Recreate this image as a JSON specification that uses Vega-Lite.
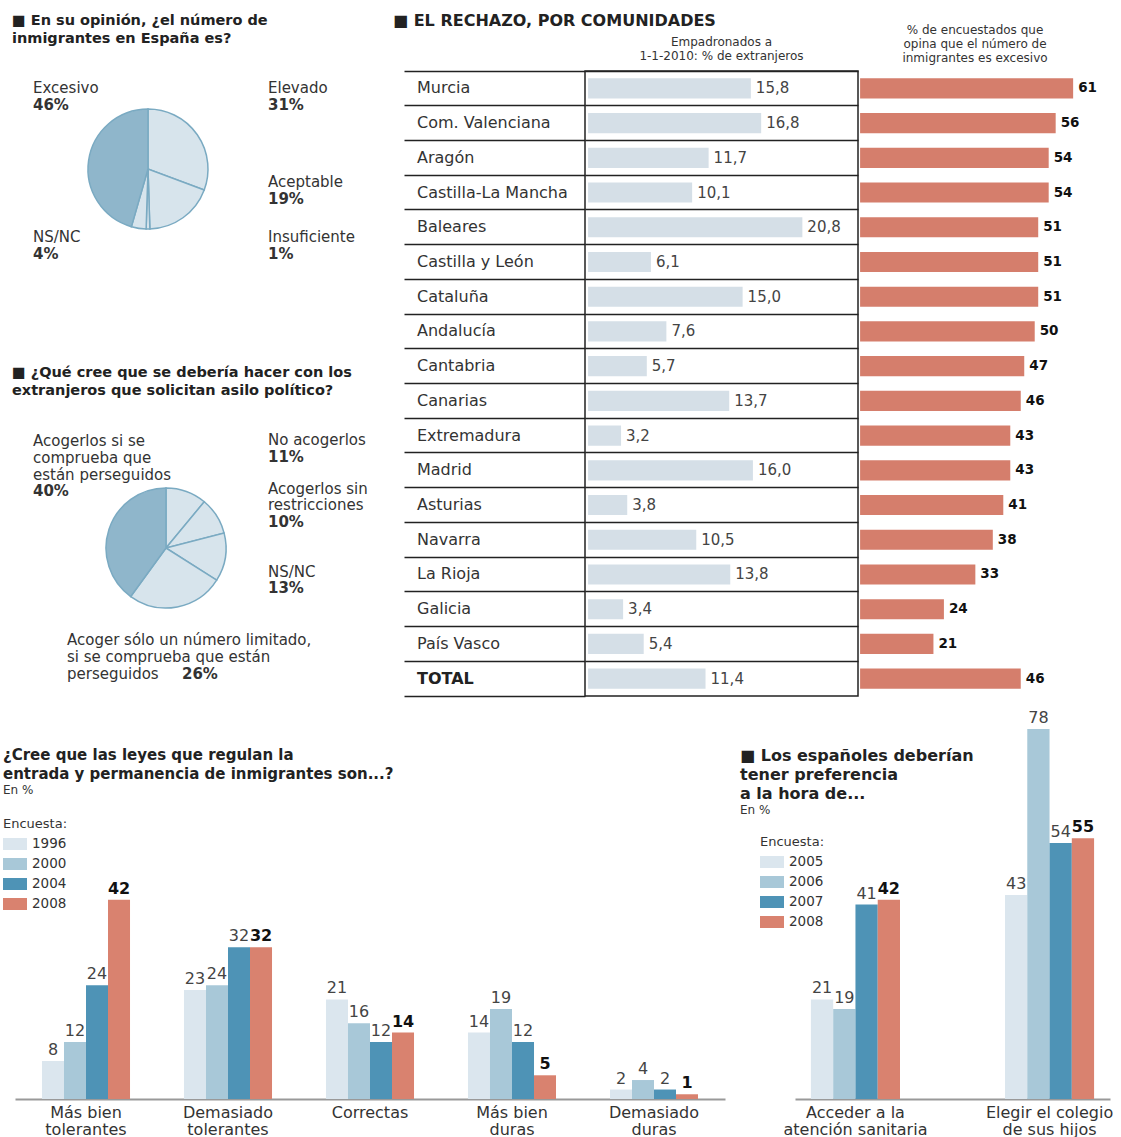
{
  "$schema": "https://vega.github.io/schema/vega-lite/v6.json",
  "padding": {"left": 3, "top": 12, "right": 0, "bottom": 0},
  "background": "white",
  "config": {
    "font": "DejaVu Sans",
    "view": {"stroke": null},
    "locale": {"number": {"decimal": ",", "thousands": ".", "grouping": [3], "currency": ["", " €"]}},
    "title": {"color": "#222"},
    "text": {"color": "#333"}
  },
  "datasets": {
    "pie1": [
      {"answer": "Elevado", "share": 0.31},
      {"answer": "Aceptable", "share": 0.19},
      {"answer": "Insuficiente", "share": 0.01},
      {"answer": "NS/NC", "share": 0.04},
      {"answer": "Excesivo", "share": 0.46}
    ],
    "pie2": [
      {"answer": "No acogerlos", "share": 0.11},
      {"answer": "Acogerlos sin restricciones", "share": 0.10},
      {"answer": "NS/NC", "share": 0.13},
      {"answer": "Acoger sólo un número limitado, si se comprueba que están perseguidos", "share": 0.26},
      {"answer": "Acogerlos si se comprueba que están perseguidos", "share": 0.40}
    ],
    "ccaa": [
      {"region": "Murcia", "emp": 15.8, "exc": 61},
      {"region": "Com. Valenciana", "emp": 16.8, "exc": 56},
      {"region": "Aragón", "emp": 11.7, "exc": 54},
      {"region": "Castilla-La Mancha", "emp": 10.1, "exc": 54},
      {"region": "Baleares", "emp": 20.8, "exc": 51},
      {"region": "Castilla y León", "emp": 6.1, "exc": 51},
      {"region": "Cataluña", "emp": 15.0, "exc": 51},
      {"region": "Andalucía", "emp": 7.6, "exc": 50},
      {"region": "Cantabria", "emp": 5.7, "exc": 47},
      {"region": "Canarias", "emp": 13.7, "exc": 46},
      {"region": "Extremadura", "emp": 3.2, "exc": 43},
      {"region": "Madrid", "emp": 16.0, "exc": 43},
      {"region": "Asturias", "emp": 3.8, "exc": 41},
      {"region": "Navarra", "emp": 10.5, "exc": 38},
      {"region": "La Rioja", "emp": 13.8, "exc": 33},
      {"region": "Galicia", "emp": 3.4, "exc": 24},
      {"region": "País Vasco", "emp": 5.4, "exc": 21},
      {"region": "TOTAL", "emp": 11.4, "exc": 46}
    ],
    "leyes": [
      {"cat": "Más bien tolerantes", "year": 1996, "value": 8},
      {"cat": "Más bien tolerantes", "year": 2000, "value": 12},
      {"cat": "Más bien tolerantes", "year": 2004, "value": 24},
      {"cat": "Más bien tolerantes", "year": 2008, "value": 42},
      {"cat": "Demasiado tolerantes", "year": 1996, "value": 23},
      {"cat": "Demasiado tolerantes", "year": 2000, "value": 24},
      {"cat": "Demasiado tolerantes", "year": 2004, "value": 32},
      {"cat": "Demasiado tolerantes", "year": 2008, "value": 32},
      {"cat": "Correctas", "year": 1996, "value": 21},
      {"cat": "Correctas", "year": 2000, "value": 16},
      {"cat": "Correctas", "year": 2004, "value": 12},
      {"cat": "Correctas", "year": 2008, "value": 14},
      {"cat": "Más bien duras", "year": 1996, "value": 14},
      {"cat": "Más bien duras", "year": 2000, "value": 19},
      {"cat": "Más bien duras", "year": 2004, "value": 12},
      {"cat": "Más bien duras", "year": 2008, "value": 5},
      {"cat": "Demasiado duras", "year": 1996, "value": 2},
      {"cat": "Demasiado duras", "year": 2000, "value": 4},
      {"cat": "Demasiado duras", "year": 2004, "value": 2},
      {"cat": "Demasiado duras", "year": 2008, "value": 1}
    ],
    "pref": [
      {"cat": "Acceder a la atención sanitaria", "year": 2005, "value": 21},
      {"cat": "Acceder a la atención sanitaria", "year": 2006, "value": 19},
      {"cat": "Acceder a la atención sanitaria", "year": 2007, "value": 41},
      {"cat": "Acceder a la atención sanitaria", "year": 2008, "value": 42},
      {"cat": "Elegir el colegio de sus hijos", "year": 2005, "value": 43},
      {"cat": "Elegir el colegio de sus hijos", "year": 2006, "value": 78},
      {"cat": "Elegir el colegio de sus hijos", "year": 2007, "value": 54},
      {"cat": "Elegir el colegio de sus hijos", "year": 2008, "value": 55}
    ]
  },
  "vconcat": [
    {
      "hconcat": [
        {
          "vconcat": [
            {
              "width": 266, "height": 196,
              "data": {"name": "pie1"},
              "title": {"text": ["■ En su opinión, ¿el número de", "inmigrantes en España es?"], "anchor": "start", "frame": "group", "dx": -3, "offset": 25, "fontSize": 14.5, "lineHeight": 18, "fontWeight": "bold"},
              "transform": [{"window": [{"op": "row_number", "as": "ord"}]}],
              "layer": [
                {
                  "mark": {"type": "arc", "outerRadius": 60, "stroke": "#7aaac2", "strokeWidth": 1.5},
                  "encoding": {
                    "theta": {"field": "share", "type": "quantitative", "stack": true},
                    "order": {"field": "ord", "type": "quantitative"},
                    "color": {"condition": {"test": "datum.answer == 'Excesivo'", "value": "#8fb6cb"}, "value": "#d7e4ec"}
                  }
                },
                {"transform": [{"filter": "datum.answer == 'Excesivo'"}], "mark": {"type": "text", "align": "left", "baseline": "middle", "dx": -115, "dy": -81, "fontSize": 15}, "encoding": {"text": {"field": "answer"}}},
                {"transform": [{"filter": "datum.answer == 'Excesivo'"}], "mark": {"type": "text", "align": "left", "baseline": "middle", "dx": -115, "dy": -64, "fontSize": 15, "fontWeight": "bold"}, "encoding": {"text": {"field": "share", "format": ".0%"}}},
                {"transform": [{"filter": "datum.answer == 'Elevado'"}], "mark": {"type": "text", "align": "left", "baseline": "middle", "dx": 120, "dy": -81, "fontSize": 15}, "encoding": {"text": {"field": "answer"}}},
                {"transform": [{"filter": "datum.answer == 'Elevado'"}], "mark": {"type": "text", "align": "left", "baseline": "middle", "dx": 120, "dy": -64, "fontSize": 15, "fontWeight": "bold"}, "encoding": {"text": {"field": "share", "format": ".0%"}}},
                {"transform": [{"filter": "datum.answer == 'Aceptable'"}], "mark": {"type": "text", "align": "left", "baseline": "middle", "dx": 120, "dy": 13, "fontSize": 15}, "encoding": {"text": {"field": "answer"}}},
                {"transform": [{"filter": "datum.answer == 'Aceptable'"}], "mark": {"type": "text", "align": "left", "baseline": "middle", "dx": 120, "dy": 30, "fontSize": 15, "fontWeight": "bold"}, "encoding": {"text": {"field": "share", "format": ".0%"}}},
                {"transform": [{"filter": "datum.answer == 'NS/NC'"}], "mark": {"type": "text", "align": "left", "baseline": "middle", "dx": -115, "dy": 68, "fontSize": 15}, "encoding": {"text": {"field": "answer"}}},
                {"transform": [{"filter": "datum.answer == 'NS/NC'"}], "mark": {"type": "text", "align": "left", "baseline": "middle", "dx": -115, "dy": 85, "fontSize": 15, "fontWeight": "bold"}, "encoding": {"text": {"field": "share", "format": ".0%"}}},
                {"transform": [{"filter": "datum.answer == 'Insuficiente'"}], "mark": {"type": "text", "align": "left", "baseline": "middle", "dx": 120, "dy": 68, "fontSize": 15}, "encoding": {"text": {"field": "answer"}}},
                {"transform": [{"filter": "datum.answer == 'Insuficiente'"}], "mark": {"type": "text", "align": "left", "baseline": "middle", "dx": 120, "dy": 85, "fontSize": 15, "fontWeight": "bold"}, "encoding": {"text": {"field": "share", "format": ".0%"}}}
              ]
            },
            {
              "width": 302, "height": 280,
              "data": {"name": "pie2"},
              "title": {"text": ["■ ¿Qué cree que se debería hacer con los", "extranjeros que solicitan asilo político?"], "anchor": "start", "frame": "group", "dx": -3, "offset": 10, "fontSize": 14.5, "lineHeight": 18, "fontWeight": "bold"},
              "transform": [{"window": [{"op": "row_number", "as": "ord"}]}],
              "layer": [
                {
                  "mark": {"type": "arc", "outerRadius": 60, "stroke": "#7aaac2", "strokeWidth": 1.5},
                  "encoding": {
                    "theta": {"field": "share", "type": "quantitative", "stack": true},
                    "order": {"field": "ord", "type": "quantitative"},
                    "color": {"condition": {"test": "datum.answer == 'Acogerlos si se comprueba que están perseguidos'", "value": "#8fb6cb"}, "value": "#d7e4ec"}
                  }
                },
                {"transform": [{"filter": "datum.answer == 'Acogerlos si se comprueba que están perseguidos'"}], "mark": {"type": "text", "align": "left", "baseline": "top", "dx": -133, "dy": -114, "fontSize": 15, "lineHeight": 17}, "encoding": {"text": {"value": ["Acogerlos si se", "comprueba que", "están perseguidos"]}}},
                {"transform": [{"filter": "datum.answer == 'Acogerlos si se comprueba que están perseguidos'"}], "mark": {"type": "text", "align": "left", "baseline": "middle", "dx": -133, "dy": -57, "fontSize": 15, "fontWeight": "bold"}, "encoding": {"text": {"field": "share", "format": ".0%"}}},
                {"transform": [{"filter": "datum.answer == 'No acogerlos'"}], "mark": {"type": "text", "align": "left", "baseline": "middle", "dx": 102, "dy": -108, "fontSize": 15}, "encoding": {"text": {"field": "answer"}}},
                {"transform": [{"filter": "datum.answer == 'No acogerlos'"}], "mark": {"type": "text", "align": "left", "baseline": "middle", "dx": 102, "dy": -91, "fontSize": 15, "fontWeight": "bold"}, "encoding": {"text": {"field": "share", "format": ".0%"}}},
                {"transform": [{"filter": "datum.answer == 'Acogerlos sin restricciones'"}], "mark": {"type": "text", "align": "left", "baseline": "top", "dx": 102, "dy": -66, "fontSize": 15, "lineHeight": 16}, "encoding": {"text": {"value": ["Acogerlos sin", "restricciones"]}}},
                {"transform": [{"filter": "datum.answer == 'Acogerlos sin restricciones'"}], "mark": {"type": "text", "align": "left", "baseline": "middle", "dx": 102, "dy": -26, "fontSize": 15, "fontWeight": "bold"}, "encoding": {"text": {"field": "share", "format": ".0%"}}},
                {"transform": [{"filter": "datum.answer == 'NS/NC'"}], "mark": {"type": "text", "align": "left", "baseline": "middle", "dx": 102, "dy": 24, "fontSize": 15}, "encoding": {"text": {"field": "answer"}}},
                {"transform": [{"filter": "datum.answer == 'NS/NC'"}], "mark": {"type": "text", "align": "left", "baseline": "middle", "dx": 102, "dy": 40, "fontSize": 15, "fontWeight": "bold"}, "encoding": {"text": {"field": "share", "format": ".0%"}}},
                {"transform": [{"filter": "datum.answer == 'Acoger sólo un número limitado, si se comprueba que están perseguidos'"}], "mark": {"type": "text", "align": "left", "baseline": "top", "dx": -99, "dy": 85, "fontSize": 15, "lineHeight": 17}, "encoding": {"text": {"value": ["Acoger sólo un número limitado,", "si se comprueba que están", "perseguidos"]}}},
                {"transform": [{"filter": "datum.answer == 'Acoger sólo un número limitado, si se comprueba que están perseguidos'"}], "mark": {"type": "text", "align": "left", "baseline": "middle", "dx": 16, "dy": 126, "fontSize": 15, "fontWeight": "bold"}, "encoding": {"text": {"field": "share", "format": ".0%"}}}
              ]
            }
          ],
          "spacing": 97,
          "resolve": {"scale": {"theta": "independent"}}
        },
        {
          "hconcat": [
            {
              "width": 181, "height": 625,
              "data": {"name": "ccaa"},
              "title": {"text": "■ EL RECHAZO, POR COMUNIDADES", "anchor": "start", "frame": "group", "dx": -11, "offset": 42, "fontSize": 16, "fontWeight": "bold"},
              "encoding": {
                "y": {"field": "region", "type": "nominal", "sort": null, "scale": {"type": "band", "paddingInner": 0, "paddingOuter": 0}, "axis": {"grid": true, "bandPosition": 0, "gridColor": "#222", "gridWidth": 1.5, "labels": false, "ticks": false, "domain": false, "title": null}},
                "x": {"datum": 0, "type": "quantitative", "scale": {"domain": [0, 1]}, "axis": {"grid": false, "labels": false, "ticks": false, "domain": true, "domainColor": "#222", "domainWidth": 1.5, "title": null}},
                "text": {"field": "region"}
              },
              "layer": [
                {"transform": [{"filter": "datum.region != 'TOTAL'"}], "mark": {"type": "text", "align": "left", "baseline": "middle", "dx": 13, "fontSize": 16, "color": "#333"}},
                {"transform": [{"filter": "datum.region == 'TOTAL'"}], "mark": {"type": "text", "align": "left", "baseline": "middle", "dx": 13, "fontSize": 16, "fontWeight": "bold", "color": "#222"}}
              ]
            },
            {
              "width": 273, "height": 625,
              "data": {"name": "ccaa"},
              "view": {"stroke": "#222", "strokeWidth": 1.5},
              "title": {"text": ["Empadronados a", "1-1-2010: % de extranjeros"], "anchor": "middle", "offset": 8, "fontSize": 12, "lineHeight": 14, "fontWeight": "normal", "color": "#333"},
              "encoding": {
                "y": {"field": "region", "type": "nominal", "sort": null, "scale": {"type": "band", "paddingInner": 0, "paddingOuter": 0}, "axis": {"grid": true, "bandPosition": 0, "gridColor": "#222", "gridWidth": 1.5, "labels": false, "ticks": false, "domain": false, "title": null}},
                "x": {"field": "emp", "type": "quantitative", "scale": {"domain": [-0.3, 26.2], "nice": false, "zero": false}, "axis": null}
              },
              "layer": [
                {"mark": {"type": "bar", "color": "#d5dfe7", "height": {"band": 0.58}}},
                {"mark": {"type": "text", "align": "left", "baseline": "middle", "dx": 5, "fontSize": 15, "color": "#444"}, "encoding": {"text": {"field": "emp", "format": ".1f"}}}
              ]
            },
            {
              "width": 234, "height": 625,
              "data": {"name": "ccaa"},
              "title": {"text": ["% de encuestados que", "opina que el número de", "inmigrantes es excesivo"], "anchor": "middle", "offset": 6, "fontSize": 12, "lineHeight": 14, "fontWeight": "normal", "color": "#333"},
              "encoding": {
                "y": {"field": "region", "type": "nominal", "sort": null, "scale": {"type": "band", "paddingInner": 0, "paddingOuter": 0}, "axis": null},
                "x": {"field": "exc", "type": "quantitative", "scale": {"domain": [-0.6, 66.4], "nice": false, "zero": false}, "axis": null}
              },
              "layer": [
                {"mark": {"type": "bar", "color": "#d57e6c", "height": {"band": 0.58}}},
                {"mark": {"type": "text", "align": "left", "baseline": "middle", "dx": 5, "fontSize": 13.5, "fontWeight": "bold", "color": "#111"}, "encoding": {"text": {"field": "exc", "format": "d"}}}
              ]
            }
          ],
          "spacing": 0,
          "bounds": "flush"
        }
      ],
      "spacing": 25
    },
    {
      "hconcat": [
        {
          "width": 710, "height": 377,
          "data": {"name": "leyes"},
          "title": {"text": ["¿Cree que las leyes que regulan la", "entrada y permanencia de inmigrantes son...?"], "subtitle": "En %", "anchor": "start", "frame": "group", "dx": -12, "dy": 78, "offset": 4, "fontSize": 15, "lineHeight": 19, "fontWeight": "bold", "subtitleFontSize": 12, "subtitlePadding": 3, "subtitleColor": "#333"},
          "encoding": {
            "x": {"field": "cat", "type": "nominal", "sort": null, "scale": {"paddingInner": 0.38, "paddingOuter": 0.19}, "axis": {"title": null, "labelAngle": 0, "ticks": false, "domainColor": "#999", "domainWidth": 2, "labelFontSize": 16, "labelColor": "#333", "labelLineHeight": 17, "labelPadding": 5, "labelExpr": "indexof(datum.label, ' ') < 0 ? datum.label : [slice(datum.label, 0, lastindexof(datum.label, ' ')), slice(datum.label, lastindexof(datum.label, ' ') + 1)]"}},
            "xOffset": {"field": "year", "type": "nominal", "scale": {"paddingInner": 0}},
            "y": {"field": "value", "type": "quantitative", "scale": {"domain": [0, 79.5], "nice": false}, "axis": null}
          },
          "layer": [
            {"mark": {"type": "bar"}, "encoding": {"color": {"field": "year", "type": "nominal", "scale": {"domain": [1996, 2000, 2004, 2008], "range": ["#dbe6ee", "#a8c8d8", "#4e93b6", "#d9826f"]}, "legend": {"orient": "none", "legendX": -12, "legendY": 96, "title": "Encuesta:", "titleFontWeight": "normal", "titleFontSize": 13, "titleColor": "#333", "titlePadding": 1, "labelFontSize": 13.5, "labelColor": "#333", "labelOffset": 5, "symbolType": "M-1,-0.5H1V0.5H-1Z", "symbolSize": 576, "symbolStrokeWidth": 0, "rowPadding": 1}}}},
            {"transform": [{"filter": "datum.year != 2008"}], "mark": {"type": "text", "baseline": "bottom", "dy": -3, "fontSize": 16, "color": "#444"}, "encoding": {"text": {"field": "value"}}},
            {"transform": [{"filter": "datum.year == 2008"}], "mark": {"type": "text", "baseline": "bottom", "dy": -3, "fontSize": 16, "fontWeight": "bold", "color": "#111"}, "encoding": {"text": {"field": "value"}}}
          ]
        },
        {
          "width": 315, "height": 377,
          "data": {"name": "pref"},
          "title": {"text": ["■ Los españoles deberían", "tener preferencia", "a la hora de..."], "subtitle": "En %", "anchor": "start", "frame": "group", "dx": -55, "dy": 110, "offset": 4, "fontSize": 16, "lineHeight": 19, "fontWeight": "bold", "subtitleFontSize": 12, "subtitlePadding": 3, "subtitleColor": "#333"},
          "encoding": {
            "x": {"field": "cat", "type": "nominal", "sort": null, "scale": {"paddingInner": 0.541, "paddingOuter": 0.082}, "axis": {"title": null, "labelAngle": 0, "ticks": false, "domainColor": "#999", "domainWidth": 2, "labelFontSize": 16, "labelColor": "#333", "labelLineHeight": 17, "labelPadding": 5, "labelLimit": 300, "labelExpr": "datum.label == 'Acceder a la atención sanitaria' ? ['Acceder a la', 'atención sanitaria'] : ['Elegir el colegio', 'de sus hijos']"}},
            "xOffset": {"field": "year", "type": "nominal", "scale": {"paddingInner": 0}},
            "y": {"field": "value", "type": "quantitative", "scale": {"domain": [0, 79.5], "nice": false}, "axis": null}
          },
          "layer": [
            {"mark": {"type": "bar"}, "encoding": {"color": {"field": "year", "type": "nominal", "scale": {"domain": [2005, 2006, 2007, 2008], "range": ["#dbe6ee", "#a8c8d8", "#4e93b6", "#d9826f"]}, "legend": {"orient": "none", "legendX": -35, "legendY": 114, "title": "Encuesta:", "titleFontWeight": "normal", "titleFontSize": 13, "titleColor": "#333", "titlePadding": 1, "labelFontSize": 13.5, "labelColor": "#333", "labelOffset": 5, "symbolType": "M-1,-0.5H1V0.5H-1Z", "symbolSize": 576, "symbolStrokeWidth": 0, "rowPadding": 1}}}},
            {"transform": [{"filter": "datum.year != 2008"}], "mark": {"type": "text", "baseline": "bottom", "dy": -3, "fontSize": 16, "color": "#444"}, "encoding": {"text": {"field": "value"}}},
            {"transform": [{"filter": "datum.year == 2008"}], "mark": {"type": "text", "baseline": "bottom", "dy": -3, "fontSize": 16, "fontWeight": "bold", "color": "#111"}, "encoding": {"text": {"field": "value"}}}
          ]
        }
      ],
      "spacing": 15,
      "resolve": {"scale": {"color": "independent", "xOffset": "independent"}, "legend": {"color": "independent"}}
    }
  ],
  "spacing": 13
}
